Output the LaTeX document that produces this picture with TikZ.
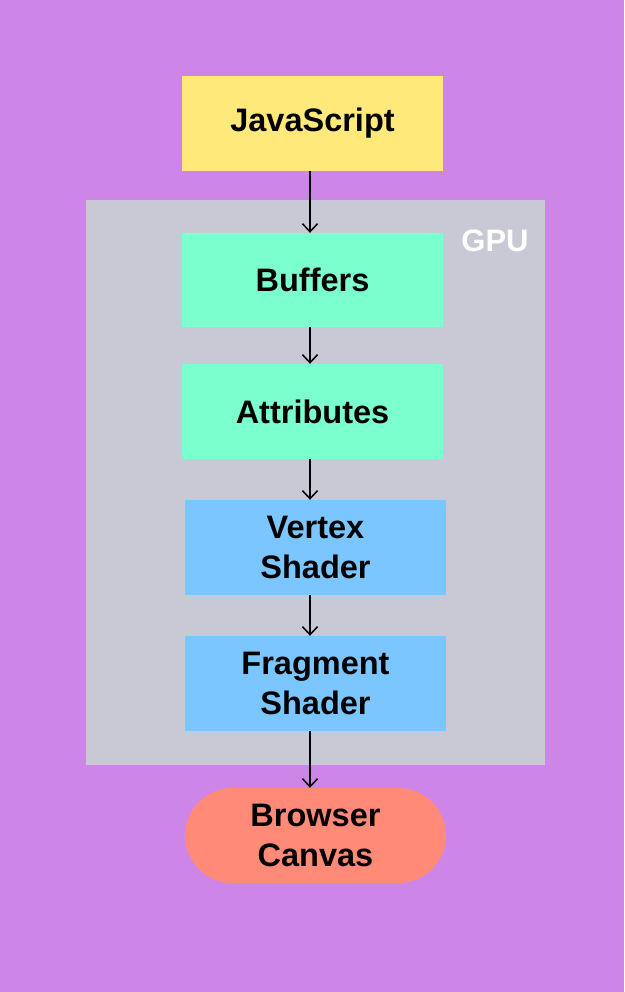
\documentclass[tikz,border=0pt]{standalone}
\usepackage{fontspec}
\setmainfont{Liberation Sans}
\usetikzlibrary{arrows.meta}
\definecolor{bgpurple}{HTML}{CD86E8}
\definecolor{gpugray}{HTML}{C8C9D4}
\definecolor{jsyellow}{HTML}{FFE97A}
\definecolor{bufgreen}{HTML}{7BFFCE}
\definecolor{shblue}{HTML}{7BC6FF}
\definecolor{salmon}{HTML}{FF8A78}
\tikzset{
  stagebox/.style={draw=none, minimum width=261pt, minimum height=95pt, inner sep=0pt,
    align=center, font=\bfseries\fontsize{32.5}{40}\selectfont},
  flowarrow/.style={-{Straight Barb[length=8pt,width=15pt,line width=1.5pt]}, line width=1.5pt, black}
}
\begin{document}
\begin{tikzpicture}[x=1pt,y=-1pt]
\fill[bgpurple] (0,0) rectangle (624,992);
\useasboundingbox (0,0) rectangle (624,992);
\fill[gpugray] (86,200) rectangle (545,765);
\node[font=\bfseries\fontsize{31}{36}\selectfont, text=white, inner sep=0pt] (gpu) at (495,241) {GPU};
\node[stagebox, fill=jsyellow] (js) at (312.5,123.5) {JavaScript};
\node[stagebox, fill=bufgreen, minimum height=94pt] (buf) at (312.5,280) {Buffers};
\node[stagebox, fill=bufgreen] (attr) at (312.5,411.5) {Attributes};
\node[stagebox, fill=shblue] (vert) at (315.5,547.5) {Vertex\\Shader};
\node[stagebox, fill=shblue] (frag) at (315.5,683.5) {Fragment\\Shader};
\node[stagebox, fill=salmon, rounded corners=47.5pt] (canvas) at (315.5,835.5) {Browser\\Canvas};
\coordinate (ax) at (310,0);
\draw[flowarrow] (js.south -| ax) -- (buf.north -| ax);
\draw[flowarrow] (buf.south -| ax) -- (attr.north -| ax);
\draw[flowarrow] (attr.south -| ax) -- (vert.north -| ax);
\draw[flowarrow] (vert.south -| ax) -- (frag.north -| ax);
\draw[flowarrow] (frag.south -| ax) -- (canvas.north -| ax);
\end{tikzpicture}
\end{document}
